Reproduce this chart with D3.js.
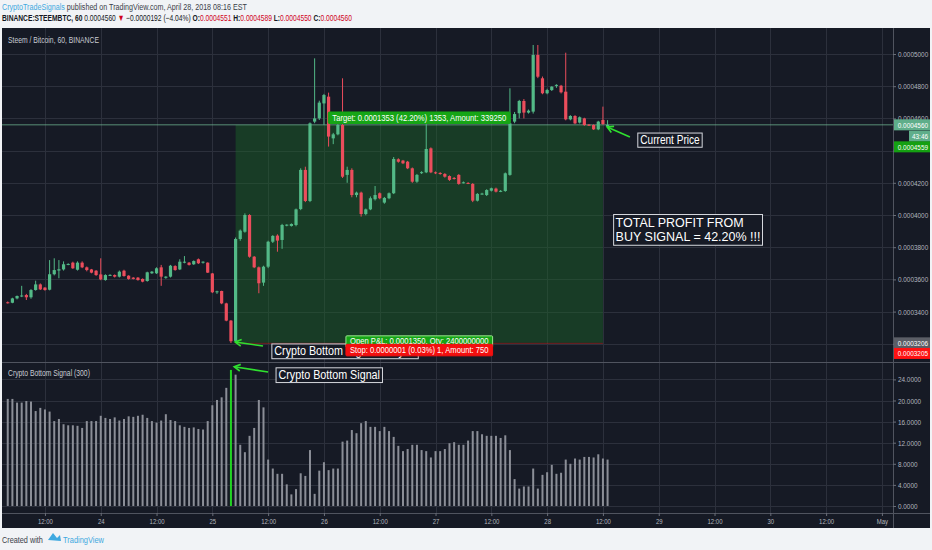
<!DOCTYPE html>
<html>
<head>
<meta charset="utf-8">
<script src="https://cdn.jsdelivr.net/npm/d3@7"></script>
<style>
  body { margin: 0; background: #f1f3f6; }
  svg { display: block; }
</style>
</head>
<body>
<div id="chart"></div>
<script>
// hourly STEEM/BTC candles, first bar 23 Apr 2018 04:00
const firstBar = Date.UTC(2018, 3, 23, 4);
const hourMs = 3600 * 1000;

const opens = [
  0.0003458, 0.0003455, 0.0003482, 0.0003497, 0.0003503, 0.0003489, 0.0003534, 0.0003569, 0.0003549, 0.0003536,
  0.0003632, 0.0003655, 0.0003662, 0.0003694, 0.0003704, 0.0003660, 0.0003704, 0.0003675, 0.0003662, 0.0003654,
  0.0003631, 0.0003596, 0.0003627, 0.0003627, 0.0003617, 0.0003654, 0.0003623, 0.0003611, 0.0003611, 0.0003603,
  0.0003590, 0.0003638, 0.0003638, 0.0003675, 0.0003610, 0.0003617, 0.0003683, 0.0003662, 0.0003706, 0.0003704,
  0.0003694, 0.0003725, 0.0003704, 0.0003704, 0.0003637, 0.0003524, 0.0003528, 0.0003451, 0.0003344, 0.0003218,
  0.0003851, 0.0003896, 0.0004000, 0.0003741, 0.0003675, 0.0003580, 0.0003679, 0.0003834, 0.0003872, 0.0003845,
  0.0003938, 0.0003932, 0.0003938, 0.0004037, 0.0004280, 0.0004087, 0.0004580, 0.0004600, 0.0004693, 0.0004735,
  0.0004476, 0.0004501, 0.0004559, 0.0004249, 0.0004280, 0.0004124, 0.0004139, 0.0004006, 0.0004035, 0.0004098,
  0.0004135, 0.0004077, 0.0004104, 0.0004135, 0.0004346, 0.0004338, 0.0004331, 0.0004290, 0.0004207, 0.0004262,
  0.0004265, 0.0004414, 0.0004265, 0.0004261, 0.0004255, 0.0004242, 0.0004230, 0.0004249, 0.0004201, 0.0004199,
  0.0004193, 0.0004089, 0.0004131, 0.0004124, 0.0004151, 0.0004164, 0.0004147, 0.0004149, 0.0004249, 0.0004580,
  0.0004632, 0.0004708, 0.0004636, 0.0004642, 0.0004994, 0.0004849, 0.0004756, 0.0004776, 0.0004805, 0.0004803,
  0.0004766, 0.0004594, 0.0004615, 0.0004574, 0.0004600, 0.0004561, 0.0004559, 0.0004532, 0.0004590, 0.0004551
];
const highs = [
  0.0003463, 0.0003486, 0.0003500, 0.0003560, 0.0003510, 0.0003540, 0.0003592, 0.0003575, 0.0003552, 0.0003720,
  0.0003731, 0.0003720, 0.0003712, 0.0003700, 0.0003710, 0.0003712, 0.0003712, 0.0003680, 0.0003665, 0.0003658,
  0.0003731, 0.0003632, 0.0003632, 0.0003631, 0.0003655, 0.0003660, 0.0003626, 0.0003614, 0.0003615, 0.0003606,
  0.0003648, 0.0003652, 0.0003675, 0.0003690, 0.0003620, 0.0003690, 0.0003688, 0.0003725, 0.0003745, 0.0003708,
  0.0003718, 0.0003730, 0.0003712, 0.0003706, 0.0003640, 0.0003530, 0.0003530, 0.0003455, 0.0003348, 0.0003860,
  0.0003910, 0.0004010, 0.0004005, 0.0003745, 0.0003680, 0.0003685, 0.0003840, 0.0003875, 0.0003880, 0.0003945,
  0.0003942, 0.0003948, 0.0004040, 0.0004290, 0.0004300, 0.0004575, 0.0004973, 0.0004710, 0.0004752, 0.0004760,
  0.0004510, 0.0004570, 0.0004849, 0.0004300, 0.0004290, 0.0004145, 0.0004145, 0.0004040, 0.0004115, 0.0004180,
  0.0004140, 0.0004112, 0.0004140, 0.0004360, 0.0004352, 0.0004342, 0.0004336, 0.0004295, 0.0004255, 0.0004272,
  0.0004570, 0.0004420, 0.0004270, 0.0004266, 0.0004260, 0.0004246, 0.0004236, 0.0004254, 0.0004208, 0.0004204,
  0.0004198, 0.0004136, 0.0004138, 0.0004160, 0.0004170, 0.0004170, 0.0004155, 0.0004264, 0.0004787, 0.0004640,
  0.0004715, 0.0004720, 0.0004655, 0.0005056, 0.0005056, 0.0004860, 0.0004784, 0.0004800, 0.0004812, 0.0004808,
  0.0005008, 0.0004620, 0.0004620, 0.0004612, 0.0004604, 0.0004565, 0.0004563, 0.0004585, 0.0004673, 0.0004589
];
const lows = [
  0.0003450, 0.0003452, 0.0003476, 0.0003490, 0.0003472, 0.0003480, 0.0003530, 0.0003534, 0.0003530, 0.0003532,
  0.0003625, 0.0003607, 0.0003655, 0.0003688, 0.0003665, 0.0003655, 0.0003670, 0.0003650, 0.0003638, 0.0003622,
  0.0003595, 0.0003592, 0.0003622, 0.0003612, 0.0003612, 0.0003617, 0.0003598, 0.0003600, 0.0003592, 0.0003582,
  0.0003586, 0.0003634, 0.0003634, 0.0003560, 0.0003604, 0.0003612, 0.0003654, 0.0003658, 0.0003700, 0.0003686,
  0.0003690, 0.0003696, 0.0003698, 0.0003640, 0.0003515, 0.0003510, 0.0003446, 0.0003340, 0.0003205, 0.0003206,
  0.0003840, 0.0003890, 0.0003735, 0.0003670, 0.0003514, 0.0003560, 0.0003670, 0.0003826, 0.0003772, 0.0003790,
  0.0003930, 0.0003928, 0.0003930, 0.0004030, 0.0004080, 0.0004080, 0.0004570, 0.0004590, 0.0004560, 0.0004425,
  0.0004440, 0.0004495, 0.0004230, 0.0004200, 0.0004110, 0.0004110, 0.0003990, 0.0003998, 0.0004030, 0.0004090,
  0.0004098, 0.0004070, 0.0004098, 0.0004130, 0.0004325, 0.0004316, 0.0004285, 0.0004200, 0.0004200, 0.0004255,
  0.0004260, 0.0004260, 0.0004254, 0.0004250, 0.0004232, 0.0004212, 0.0004220, 0.0004188, 0.0004196, 0.0004192,
  0.0004080, 0.0004084, 0.0004126, 0.0004118, 0.0004146, 0.0004140, 0.0004142, 0.0004144, 0.0004244, 0.0004570,
  0.0004600, 0.0004600, 0.0004630, 0.0004630, 0.0004850, 0.0004750, 0.0004750, 0.0004770, 0.0004790, 0.0004755,
  0.0004588, 0.0004588, 0.0004564, 0.0004568, 0.0004554, 0.0004554, 0.0004528, 0.0004527, 0.0004560, 0.0004550
];
const closes = [
  0.0003455, 0.0003482, 0.0003497, 0.0003500, 0.0003489, 0.0003534, 0.0003569, 0.0003538, 0.0003534, 0.0003632,
  0.0003658, 0.0003663, 0.0003694, 0.0003696, 0.0003669, 0.0003704, 0.0003675, 0.0003658, 0.0003642, 0.0003627,
  0.0003600, 0.0003627, 0.0003628, 0.0003617, 0.0003648, 0.0003621, 0.0003603, 0.0003603, 0.0003596, 0.0003586,
  0.0003644, 0.0003648, 0.0003669, 0.0003617, 0.0003617, 0.0003685, 0.0003658, 0.0003710, 0.0003710, 0.0003690,
  0.0003714, 0.0003700, 0.0003710, 0.0003642, 0.0003520, 0.0003526, 0.0003451, 0.0003344, 0.0003216, 0.0003851,
  0.0003903, 0.0004000, 0.0003741, 0.0003675, 0.0003576, 0.0003679, 0.0003834, 0.0003870, 0.0003841, 0.0003938,
  0.0003940, 0.0003944, 0.0004035, 0.0004280, 0.0004087, 0.0004569, 0.0004600, 0.0004698, 0.0004745, 0.0004487,
  0.0004501, 0.0004559, 0.0004238, 0.0004280, 0.0004124, 0.0004139, 0.0004006, 0.0004035, 0.0004104, 0.0004124,
  0.0004104, 0.0004106, 0.0004135, 0.0004348, 0.0004331, 0.0004321, 0.0004290, 0.0004207, 0.0004249, 0.0004266,
  0.0004410, 0.0004265, 0.0004259, 0.0004257, 0.0004238, 0.0004218, 0.0004226, 0.0004193, 0.0004203, 0.0004197,
  0.0004089, 0.0004131, 0.0004133, 0.0004155, 0.0004166, 0.0004145, 0.0004150, 0.0004259, 0.0004569, 0.0004627,
  0.0004708, 0.0004636, 0.0004648, 0.0004994, 0.0004859, 0.0004756, 0.0004776, 0.0004797, 0.0004808, 0.0004762,
  0.0004594, 0.0004615, 0.0004569, 0.0004607, 0.0004559, 0.0004559, 0.0004532, 0.0004580, 0.0004565, 0.0004560
];

// "Crypto Bottom Signal (300)" histogram, one value per candle
const signalValues = [
  20.3, 20.3, 19.6, 19.6, 19.9, 19.8, 18.0, 18.6, 18.3, 17.9,
  16.1, 16.5, 15.5, 15.3, 15.3, 15.2, 14.8, 16.1, 16.1, 16.1,
  17.1, 16.7, 16.5, 16.8, 16.2, 16.5, 17.0, 16.9, 17.1, 17.3,
  16.7, 16.1, 15.8, 16.2, 17.4, 16.3, 16.1, 15.3, 15.0, 14.8,
  14.9, 14.6, 14.5, 16.1, 19.1, 20.1, 20.6, 22.4, 25.8, 24.9,
  11.6, 10.2, 13.3, 14.8, 20.1, 18.7, 8.8, 7.1, 6.1, 6.1,
  4.1, 2.2, 3.2, 6.2, 5.7, 10.6, 2.3, 6.7, 8.3, 6.8,
  7.1, 7.1, 12.2, 12.4, 14.4, 13.8, 15.7, 16.1, 15.0, 15.0,
  14.2, 15.0, 14.2, 13.1, 11.4, 10.4, 10.8, 11.6, 11.6, 10.6,
  10.4, 9.2, 10.4, 10.4, 10.8, 11.9, 12.1, 11.6, 11.6, 12.4,
  14.2, 14.2, 13.6, 13.3, 13.3, 13.3, 12.9, 13.4, 10.6, 5.1,
  3.3, 3.7, 3.7, 7.1, 3.3, 5.9, 6.4, 7.8, 6.1, 6.3,
  8.8, 8.0, 9.0, 8.8, 9.3, 9.3, 9.2, 9.8, 9.0, 8.8
];
const signalBars = [48];

const priceTicks = [0.00032, 0.00034, 0.00036, 0.00038, 0.0004, 0.00042, 0.00044, 0.00046, 0.00048, 0.0005];
const hiddenPriceLabels = [0.00032, 0.00044]; // covered by the price badges
const signalTicks = [0, 4, 8, 12, 16, 20, 24];

// long position drawn on the chart
const entryPrice = 0.0003206;
const targetPrice = 0.0004559;
const stopPrice = 0.0003205;
const positionBars = [49, 128];
const lastPrice = 0.0004560;

const FONT = "'Liberation Sans', Arial, sans-serif";
const W = 932, H = 550;
const plotLeft = 2, plotRight = 893, panelRight = 930;
const priceTop = 30, priceBottom = 362, indBottom = 513, panelTop = 28, panelBottom = 528;
const green = "#53b987", red = "#eb4d5c";

// no narrow font installed: squeeze text horizontally around its x anchor
function squeeze(t, f) {
  const x0 = +t.attr("x") || 0;
  t.attr("transform", `translate(${x0},0) scale(${f},1) translate(${-x0},0)`);
  return t;
}
function fitWidth(t, w) {
  return squeeze(t, w / t.node().getComputedTextLength());
}

const candles = opens.map((o, i) => ({
  t: new Date(firstBar + i * hourMs), o, h: highs[i], l: lows[i], c: closes[i], s: signalValues[i], i
}));

const x = d3.scaleUtc()
  .domain([Date.UTC(2018, 3, 23, 2, 20), Date.UTC(2018, 4, 1, 2, 23)])
  .range([0, plotRight]);
const y = d3.scaleLinear().domain([0.0003087, 0.0005149]).range([priceBottom, priceTop]);
const yS = d3.scaleLinear().domain([-1.33, 27.3]).range([indBottom, priceBottom]);
const barX = i => x(new Date(firstBar + i * hourMs));
const hx = h => x(new Date(firstBar + h * hourMs));

const svg = d3.select("#chart").append("svg")
  .attr("width", W).attr("height", H)
  .style("font-family", FONT);

svg.append("rect").attr("width", W).attr("height", H).attr("fill", "#f1f3f6");

// header
const l1 = svg.append("text").attr("x", 2).attr("y", 10.5).attr("fill", "#3a3e48").style("font-size", "8.5px");
l1.append("tspan").attr("fill", "#3fa9e0").text("CryptoTradeSignals");
l1.append("tspan").text(" published on TradingView.com, April 28, 2018 08:16 EST");
fitWidth(l1, 245);
const l2 = svg.append("text").attr("x", 2).attr("y", 21.5).attr("fill", "#131722").style("font-size", "9px");
[["BINANCE:STEEMBTC, 60 ", "#131722", 700], ["0.0004560 ", "#131722", 400], ["▼", "#d0021b", 400],
 [" −0.0000192 (−4.04%) ", "#131722", 400], ["O:", "#131722", 700], ["0.0004551", "#d0021b", 400],
 [" H:", "#131722", 700], ["0.0004589", "#d0021b", 400], [" L:", "#131722", 700], ["0.0004550", "#d0021b", 400],
 [" C:", "#131722", 700], ["0.0004560", "#d0021b", 400]]
  .forEach(([t, c, w]) => l2.append("tspan").attr("fill", c).attr("font-weight", w).text(t));
fitWidth(l2, 351);

// dark chart panel
svg.append("rect").attr("x", plotLeft).attr("y", panelTop)
  .attr("width", panelRight - plotLeft).attr("height", panelBottom - panelTop).attr("fill", "#161a25");

const timeTicks = d3.utcHour.every(12).range(x.domain()[0], x.domain()[1]);
const grid = svg.append("g").attr("stroke", "#2c303c").attr("stroke-width", 1);
grid.selectAll(".v").data(timeTicks).join("line")
  .attr("x1", d => Math.round(x(d)) + 0.5).attr("x2", d => Math.round(x(d)) + 0.5)
  .attr("y1", panelTop).attr("y2", indBottom);
grid.selectAll(".h").data(priceTicks).join("line")
  .attr("x1", plotLeft).attr("x2", plotRight)
  .attr("y1", d => Math.round(y(d)) + 0.5).attr("y2", d => Math.round(y(d)) + 0.5);
grid.selectAll(".hs").data(signalTicks).join("line")
  .attr("x1", plotLeft).attr("x2", plotRight)
  .attr("y1", d => Math.round(yS(d)) + 0.5).attr("y2", d => Math.round(yS(d)) + 0.5);

// clip for price pane
svg.append("clipPath").attr("id", "pclip").append("rect")
  .attr("x", plotLeft).attr("y", priceTop).attr("width", plotRight - plotLeft).attr("height", priceBottom - priceTop);
const pane = svg.append("g").attr("clip-path", "url(#pclip)");

// position (target / stop zones)
const px0 = barX(positionBars[0]), px1 = barX(positionBars[1]);
pane.append("rect").attr("x", px0).attr("width", px1 - px0)
  .attr("y", y(targetPrice)).attr("height", y(entryPrice) - y(targetPrice))
  .attr("fill", "#1c6b28").attr("fill-opacity", 0.42);
pane.append("rect").attr("x", px0).attr("width", px1 - px0)
  .attr("y", y(entryPrice)).attr("height", Math.max(1, y(stopPrice) - y(entryPrice)))
  .attr("fill", "#b3261e").attr("fill-opacity", 0.6);

// last price line
pane.append("line").attr("x1", plotLeft).attr("x2", plotRight)
  .attr("y1", y(lastPrice)).attr("y2", y(lastPrice))
  .attr("stroke", "#6fb593").attr("stroke-opacity", 0.75);

// candles
const cg = pane.append("g");
cg.selectAll("line").data(candles).join("line")
  .attr("x1", d => barX(d.i)).attr("x2", d => barX(d.i))
  .attr("y1", d => y(d.h)).attr("y2", d => y(d.l))
  .attr("stroke", d => d.c >= d.o ? green : red).attr("stroke-width", 1);
cg.selectAll("rect").data(candles).join("rect")
  .attr("x", d => barX(d.i) - 1.6).attr("width", 3.2)
  .attr("y", d => y(Math.max(d.o, d.c)))
  .attr("height", d => Math.max(1, Math.abs(y(d.o) - y(d.c))))
  .attr("fill", d => d.c >= d.o ? green : red);

// signal histogram
svg.append("g").selectAll("rect").data(candles).join("rect")
  .attr("x", d => barX(d.i) - 1).attr("width", 2)
  .attr("y", d => yS(d.s)).attr("height", d => yS(0) - yS(d.s))
  .attr("fill", d => signalBars.includes(d.i) ? "#22d422" : "#8b8e97");

// pane separators and axes lines
const sep = svg.append("g").attr("stroke", "#50545f");
sep.append("line").attr("x1", plotLeft).attr("x2", panelRight).attr("y1", priceBottom + 0.5).attr("y2", priceBottom + 0.5);
sep.append("line").attr("x1", plotLeft).attr("x2", panelRight).attr("y1", indBottom + 0.5).attr("y2", indBottom + 0.5);
sep.append("line").attr("x1", plotRight + 0.5).attr("x2", plotRight + 0.5).attr("y1", panelTop).attr("y2", panelBottom);

// axes
const styleAxis = (size, f) => g => {
  g.select(".domain").remove();
  g.selectAll(".tick line").attr("stroke", "#6a6e79");
  g.selectAll(".tick text").attr("fill", "#b2b5be").style("font-size", size + "px").style("font-family", FONT)
    .each(function () { squeeze(d3.select(this), f); });
};
svg.append("g").attr("transform", `translate(${plotRight},0)`)
  .call(d3.axisRight(y).tickValues(priceTicks).tickSize(3).tickPadding(2)
    .tickFormat(d => hiddenPriceLabels.includes(d) ? "" : d3.format(".7f")(d)))
  .call(styleAxis(8, 0.8));
svg.append("g").attr("transform", `translate(${plotRight},0)`)
  .call(d3.axisRight(yS).tickValues(signalTicks).tickFormat(d3.format(".4f")).tickSize(3).tickPadding(2))
  .call(styleAxis(8, 0.8));
svg.append("g").attr("transform", `translate(0,${indBottom})`)
  .call(d3.axisBottom(x).tickValues(timeTicks).tickSize(3).tickPadding(3)
    .tickFormat(d => d.getUTCHours() === 12 ? "12:00" : (d.getUTCDate() === 1 ? "May" : d.getUTCDate())))
  .call(styleAxis(7.5, 0.8));

// price scale badges
const badges = [
  { text: "0.0004560", yv: y(lastPrice), fill: "#5fae8a", x0: plotRight + 1 },
  { text: "43:46", yv: y(lastPrice) + 11.3, fill: "#5fae8a", x0: 909 },
  { text: "0.0004559", yv: y(lastPrice) + 22, fill: "#15a012", x0: plotRight + 1 },
  { text: "0.0003206", yv: y(entryPrice), fill: "#5b5e66", x0: plotRight + 1 },
  { text: "0.0003205", yv: y(entryPrice) + 10.6, fill: "#ff1212", x0: plotRight + 1 }
];
const bg = svg.append("g");
badges.forEach(b => {
  bg.append("rect").attr("x", b.x0).attr("y", b.yv - 5.5).attr("width", panelRight - b.x0).attr("height", 11).attr("fill", b.fill);
  squeeze(bg.append("text").attr("x", panelRight - 2).attr("y", b.yv).attr("dy", "0.35em").attr("text-anchor", "end")
    .attr("fill", "#fff").style("font-size", "8px").text(b.text), 0.8);
});

// pane titles
fitWidth(svg.append("text").attr("x", 8).attr("y", 43).attr("fill", "#c9ccd3").style("font-size", "8.5px")
  .text("Steem / Bitcoin, 60, BINANCE"), 91);
fitWidth(svg.append("text").attr("x", 8).attr("y", 376).attr("fill", "#c9ccd3").style("font-size", "8.5px")
  .text("Crypto Bottom Signal (300)"), 82);

// boxed note, one text element per line
function note(g, x0, y0, lines, size, f, padX, padY, lh) {
  let w = 0;
  lines.forEach((s, k) => {
    const t = g.append("text").attr("x", x0 + padX).attr("y", y0 + padY + size * 0.86 + k * lh)
      .attr("fill", "#fff").style("font-size", size + "px").text(s);
    squeeze(t, f);
    w = Math.max(w, t.node().getComputedTextLength() * f);
  });
  g.insert("rect", "text").attr("x", x0).attr("y", y0)
    .attr("width", w + 2 * padX).attr("height", (lines.length - 1) * lh + size * 1.1 + 2 * padY)
    .attr("fill", "#161a25").attr("stroke", "#d6d8de").attr("stroke-width", 1);
}
function centeredLabel(g, cx, yTop, text, fill, stroke) {
  const f = 0.85;
  const t = g.append("text").attr("x", cx).attr("y", yTop + 8.6).attr("text-anchor", "middle")
    .attr("fill", "#fff").style("font-size", "9px").text(text);
  const w = t.node().getComputedTextLength() * f;
  squeeze(t, f);
  g.insert("rect", "text").attr("x", cx - w / 2 - 4).attr("y", yTop).attr("width", w + 8).attr("height", 11.5)
    .attr("rx", 1).attr("fill", fill).attr("stroke", stroke || fill);
}

// arrows
function arrow(g, x1, y1, x2, y2) {
  const a = Math.atan2(y2 - y1, x2 - x1), L = 7, s = 0.5;
  g.append("line").attr("x1", x1).attr("y1", y1).attr("x2", x2).attr("y2", y2);
  g.append("path").attr("fill", "none").attr("d",
    `M${x2 - L * Math.cos(a - s)},${y2 - L * Math.sin(a - s)}L${x2},${y2}L${x2 - L * Math.cos(a + s)},${y2 - L * Math.sin(a + s)}`);
}
const ag = svg.append("g").attr("stroke", "#2fe02f").attr("stroke-width", 1.6);
arrow(ag, hx(54.9), y(0.0003186), hx(48.9), y(0.0003211));
arrow(ag, hx(56.0), yS(25.4), hx(48.7), yS(26.4));
arrow(ag, hx(133.8), y(0.0004484), hx(128.9), y(0.0004547));

const ng = svg.append("g");
note(ng.append("g"), hx(56.8), y(0.0003199), ["Crypto Bottom Signal - Buy In"], 12.5, 0.86, 2.5, 0.5, 0);
note(ng.append("g"), hx(57.7), yS(26.2), ["Crypto Bottom Signal"], 12.5, 0.86, 2.5, 0.5, 0);
note(ng.append("g"), hx(135.5), y(0.0004509), ["Current Price"], 12, 0.84, 2.5, 0.5, 0);
note(ng.append("g"), hx(130.3), y(0.0004003), ["TOTAL PROFIT FROM", "BUY SIGNAL = 42.20% !!!"], 12.5, 1, 2, 1.5, 14);

// position labels
const cx = (px0 + px1) / 2;
const lg = svg.append("g");
centeredLabel(lg.append("g"), cx, y(targetPrice) - 13, "Target: 0.0001353 (42.20%) 1353, Amount: 339250", "#16a516");
centeredLabel(lg.append("g"), cx, y(entryPrice) - 7, "Open P&L: 0.0001350, Qty: 2400000000", "#16a516", "#9be38f");
centeredLabel(lg.append("g"), cx, y(entryPrice) + 1.5, "Stop: 0.0000001 (0.03%) 1, Amount: 750", "#f30f0f");

// footer
const ft = svg.append("g");
fitWidth(ft.append("text").attr("x", 2).attr("y", 543).attr("fill", "#3a3e48").style("font-size", "8.5px").text("Created with"), 41);
ft.append("path").attr("d", "M48,540 L53,533 L57,538 L60,535 L61,541 Z").attr("fill", "#3fa9e0");
fitWidth(ft.append("text").attr("x", 63).attr("y", 543).attr("fill", "#3fa9e0").style("font-size", "9px").text("TradingView"), 41);
</script>
</body>
</html>
